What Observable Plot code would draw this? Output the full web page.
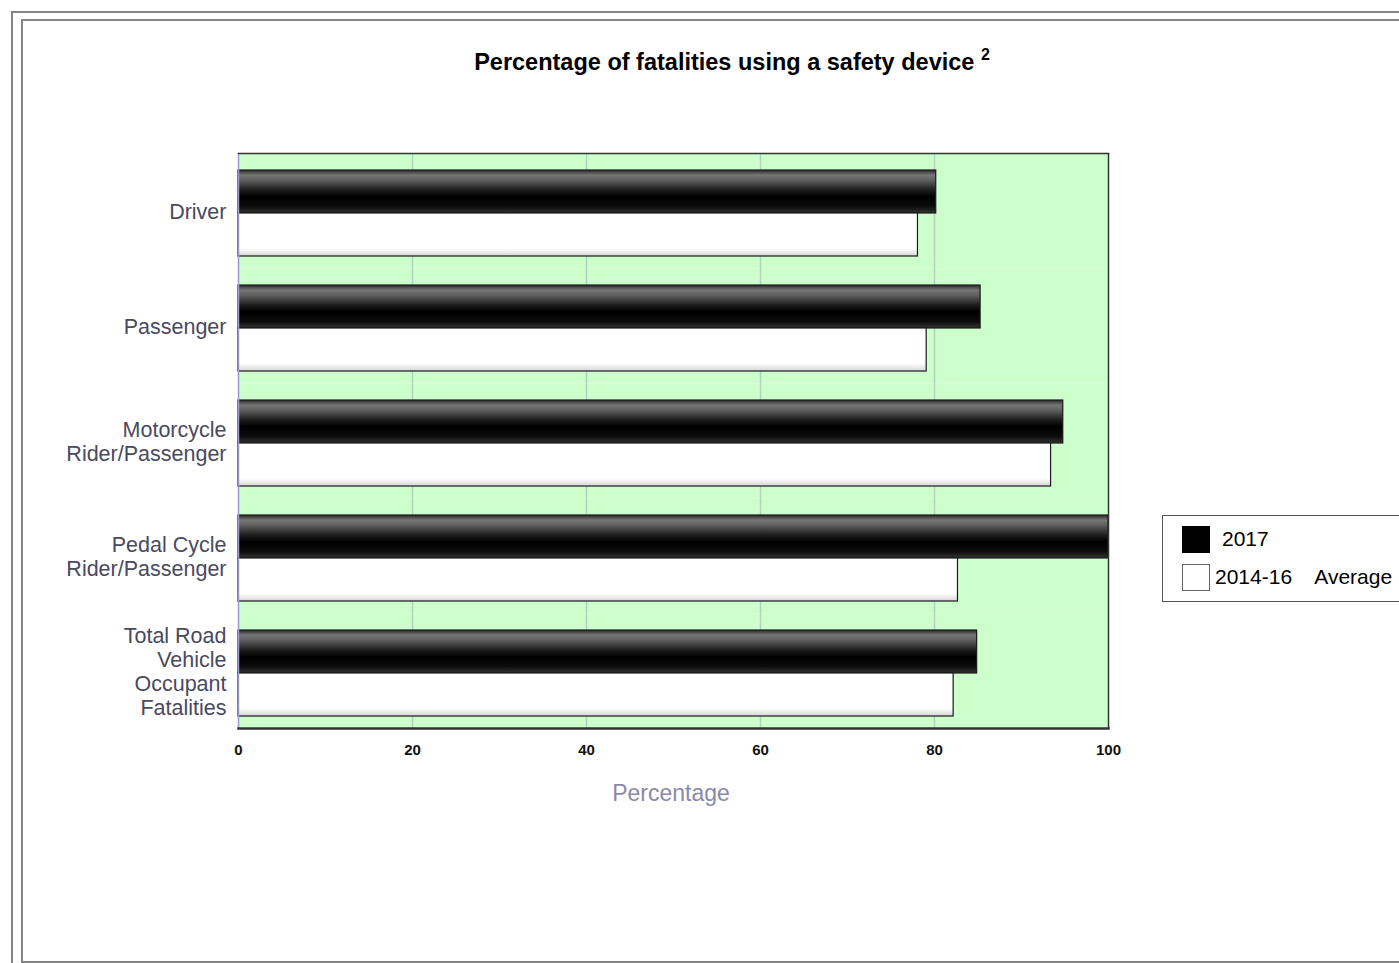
<!DOCTYPE html>
<html>
<head>
<meta charset="utf-8">
<script src="https://cdn.jsdelivr.net/npm/d3@7"></script>
<script src="https://cdn.jsdelivr.net/npm/@observablehq/plot@0.6"></script>
<style>
  html, body { margin: 0; padding: 0; background: #fff; }
  body { width: 1399px; height: 963px; position: relative; overflow: hidden; font-family: "Liberation Sans", Arial, sans-serif; }
  #frame1 { position: absolute; left: 11px; top: 11px; width: 1500px; height: 1000px; border-left: 2px solid #858585; border-top: 2px solid #858585; }
  #frame2 { position: absolute; left: 21px; top: 19px; width: 1500px; height: 940px; border-left: 2px solid #858585; border-top: 2px solid #858585; border-bottom: 2px solid #858585; }
  #chart { position: absolute; left: 0; top: 0; }
  #title { position: absolute; left: 0; top: 42px; width: 1464px; text-align: center; font-weight: bold; font-size: 23.5px; color: #000; line-height: 28px; }
  #title sup { font-size: 16px; position: relative; top: -1px; }
  #xlabel { position: absolute; left: 0; top: 780px; width: 1342px; text-align: center; font-size: 23px; color: #8a8aaa; }
  #legend { position: absolute; left: 1162px; top: 515px; width: 260px; height: 85px; border: 1px solid #555; }
  .item { position: absolute; left: 19px; height: 28px; display: flex; align-items: center; font-size: 21px; color: #000; white-space: pre; }
  .sw { width: 28px; height: 27px; box-sizing: border-box; margin-right: 5px; }
</style>
</head>
<body>
<div id="frame1"></div>
<div id="frame2"></div>
<div id="chart"></div>
<div id="title">Percentage of fatalities using a safety device <sup>2</sup></div>
<div id="xlabel">Percentage</div>
<div id="legend"></div>
<script>
// ---- data ----
const categories = [
  "Driver",
  "Passenger",
  "Motorcycle\nRider/Passenger",
  "Pedal Cycle\nRider/Passenger",
  "Total Road\nVehicle\nOccupant\nFatalities"
];
const seriesNames = ["2017", "2014-16    Average"];
const values2017 = [80.2, 85.3, 94.8, 100, 84.9];
const valuesAvg = [78.1, 79.1, 93.4, 82.7, 82.2];
const xTicks = [0, 20, 40, 60, 80, 100];
const gridTicks = [20, 40, 60, 80];

const rows = [];
categories.forEach((c, i) => {
  rows.push({category: c, series: seriesNames[0], value: values2017[i]});
  rows.push({category: c, series: seriesNames[1], value: valuesAvg[i]});
});

const chart = Plot.plot({
  width: 1399,
  height: 963,
  marginLeft: 238,
  marginRight: 291,
  marginTop: 152,
  marginBottom: 235,
  style: {fontFamily: "'Liberation Sans', Arial, sans-serif", background: "transparent"},
  x: {domain: [0, 100], axis: null},
  fy: {domain: categories, padding: 0, axis: null},
  y: {domain: seriesNames, paddingInner: 0, paddingOuter: 0.33, align: 0.57, axis: null},
  marks: [
    Plot.frame({fill: "#ccffcc", stroke: null}),
    Plot.ruleX(gridTicks, {stroke: "#b0d4bb", strokeWidth: 1.5}),
    Plot.barX(rows.filter(d => d.series === seriesNames[0]), {
      fy: "category", y: "series", x: "value",
      fill: "url(#gradBlack)", stroke: "#1a1a1a", strokeWidth: 1.2
    }),
    Plot.barX(rows.filter(d => d.series === seriesNames[1]), {
      fy: "category", y: "series", x: "value",
      fill: "url(#gradWhite)", stroke: "#1a1a1a", strokeWidth: 1.2
    }),
    Plot.ruleX([0], {stroke: "#9a9ad0", strokeWidth: 1.5}),
    Plot.ruleX([100], {stroke: "#333", strokeWidth: 1.5}),
    Plot.frame({anchor: "top", facetAnchor: "top", stroke: "#333", strokeWidth: 1.5}),
    Plot.frame({anchor: "bottom", facetAnchor: "bottom", stroke: "#333", strokeWidth: 2.5}),
    Plot.axisFy({
      anchor: "left", tickSize: 0, tickPadding: 12, fontSize: 21.5, lineHeight: 1.12,
      color: "#4a4a5e", label: null
    }),
    Plot.axisX({
      ticks: xTicks, tickSize: 0, tickPadding: 16, fontSize: 15, color: "#111",
      label: null, fontWeight: "bold"
    })
  ]
});

// gradient definitions for the shiny bars
const ns = "http://www.w3.org/2000/svg";
const defs = document.createElementNS(ns, "defs");
function grad(id, stops) {
  const g = document.createElementNS(ns, "linearGradient");
  g.setAttribute("id", id);
  g.setAttribute("x1", "0"); g.setAttribute("y1", "0");
  g.setAttribute("x2", "0"); g.setAttribute("y2", "1");
  stops.forEach(([o, c]) => {
    const s = document.createElementNS(ns, "stop");
    s.setAttribute("offset", o);
    s.setAttribute("stop-color", c);
    g.appendChild(s);
  });
  defs.appendChild(g);
}
grad("gradBlack", [[0, "#2a2a2a"], [0.12, "#767676"], [0.24, "#5e5e5e"], [0.47, "#1c1c1c"], [0.62, "#000"], [0.85, "#0c0c0c"], [1, "#333333"]]);
grad("gradWhite", [[0, "#ffffff"], [0.82, "#ffffff"], [1, "#d6d6d6"]]);
chart.insertBefore(defs, chart.firstChild);
document.getElementById("chart").appendChild(chart);

// legend
const legend = document.getElementById("legend");
const swFills = ["#000", "#fff"];
seriesNames.forEach((name, i) => {
  const item = document.createElement("div");
  item.className = "item";
  item.style.top = (i === 0 ? 9 : 47) + "px";
  const sw = document.createElement("div");
  sw.className = "sw";
  sw.style.background = swFills[i];
  sw.style.border = i === 0 ? "1px solid #000" : "1px solid #666";
  if (i === 0) sw.style.marginRight = "12px";
  item.appendChild(sw);
  item.appendChild(document.createTextNode(name));
  legend.appendChild(item);
});
</script>
</body>
</html>
